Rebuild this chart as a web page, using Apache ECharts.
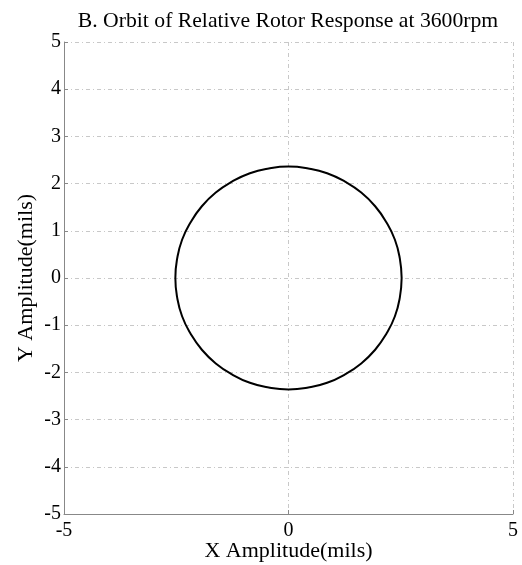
<!DOCTYPE html>
<html>
<head>
<meta charset="utf-8">
<script src="https://cdn.jsdelivr.net/npm/echarts@6/dist/echarts.min.js"></script>
<style>
  html, body { margin: 0; padding: 0; background: #fff; }
  #orbit { width: 522px; height: 565px; }
</style>
</head>
<body>
<div id="orbit"></div>
<script>
// orbit points (mils), one loop
var orbitX = [2.52, 2.48, 2.37, 2.18, 1.93, 1.62, 1.26, 0.86, 0.44, 0,
  -0.44, -0.86, -1.26, -1.62, -1.93, -2.18, -2.37, -2.48, -2.52,
  -2.48, -2.37, -2.18, -1.93, -1.62, -1.26, -0.86, -0.44, 0,
  0.44, 0.86, 1.26, 1.62, 1.93, 2.18, 2.37, 2.48, 2.52];
var orbitY = [0, 0.41, 0.81, 1.18, 1.52, 1.81, 2.04, 2.22, 2.32, 2.36,
  2.32, 2.22, 2.04, 1.81, 1.52, 1.18, 0.81, 0.41, 0,
  -0.41, -0.81, -1.18, -1.52, -1.81, -2.04, -2.22, -2.32, -2.36,
  -2.32, -2.22, -2.04, -1.81, -1.52, -1.18, -0.81, -0.41, 0];
var xTicks = [-5, 0, 5];
var yTicks = [-5, -4, -3, -2, -1, 0, 1, 2, 3, 4, 5];

var font = "Liberation Serif";
var gridLine = {
  show: true,
  lineStyle: { color: "#c8c8c8", width: 1, type: [4, 3, 1, 3] }
};

var points = orbitX.map(function (x, i) { return [x, orbitY[i]]; });

var option = {
  animation: false,
  textStyle: { fontFamily: font, color: "#000" },
  title: {
    text: "B. Orbit of Relative Rotor Response at 3600rpm",
    left: 283,
    textAlign: "center",
    top: 5,
    textStyle: { fontFamily: font, fontSize: 21.7, fontWeight: "normal", color: "#000" }
  },
  grid: { left: 64, right: 9, top: 42, bottom: 51, outerBoundsMode: "none", containLabel: false },
  xAxis: {
    type: "value",
    min: -5,
    max: 5,
    interval: 5,
    name: "X Amplitude(mils)",
    nameLocation: "middle",
    nameGap: 26,
    nameMoveOverlap: false,
    nameTextStyle: { fontFamily: font, fontSize: 22, color: "#000" },
    axisLine: { show: true, onZero: false, lineStyle: { color: "#888", width: 1 } },
    axisTick: { show: true, inside: true, length: 4, lineStyle: { color: "#888" } },
    axisLabel: { fontFamily: font, fontSize: 20, color: "#000", margin: 7,
      formatter: function (v) { return xTicks.indexOf(v) >= 0 ? String(v) : ""; } },
    splitLine: gridLine
  },
  yAxis: {
    type: "value",
    min: -5,
    max: 5,
    interval: 1,
    name: "Y Amplitude(mils)",
    nameLocation: "middle",
    nameGap: 27,
    nameMoveOverlap: false,
    nameTextStyle: { fontFamily: font, fontSize: 22, color: "#000" },
    axisLine: { show: true, onZero: false, lineStyle: { color: "#888", width: 1 } },
    axisTick: { show: true, inside: true, length: 4, lineStyle: { color: "#888" } },
    axisLabel: { fontFamily: font, fontSize: 20, color: "#000", margin: 3,
      formatter: function (v) { return yTicks.indexOf(v) >= 0 ? String(v) : ""; } },
    splitLine: gridLine
  },
  series: [
    {
      type: "line",
      data: points,
      showSymbol: false,
      smooth: true,
      lineStyle: { color: "#000", width: 2 }
    }
  ]
};

var chart = echarts.init(document.getElementById("orbit"));
chart.setOption(option);
</script>
</body>
</html>
